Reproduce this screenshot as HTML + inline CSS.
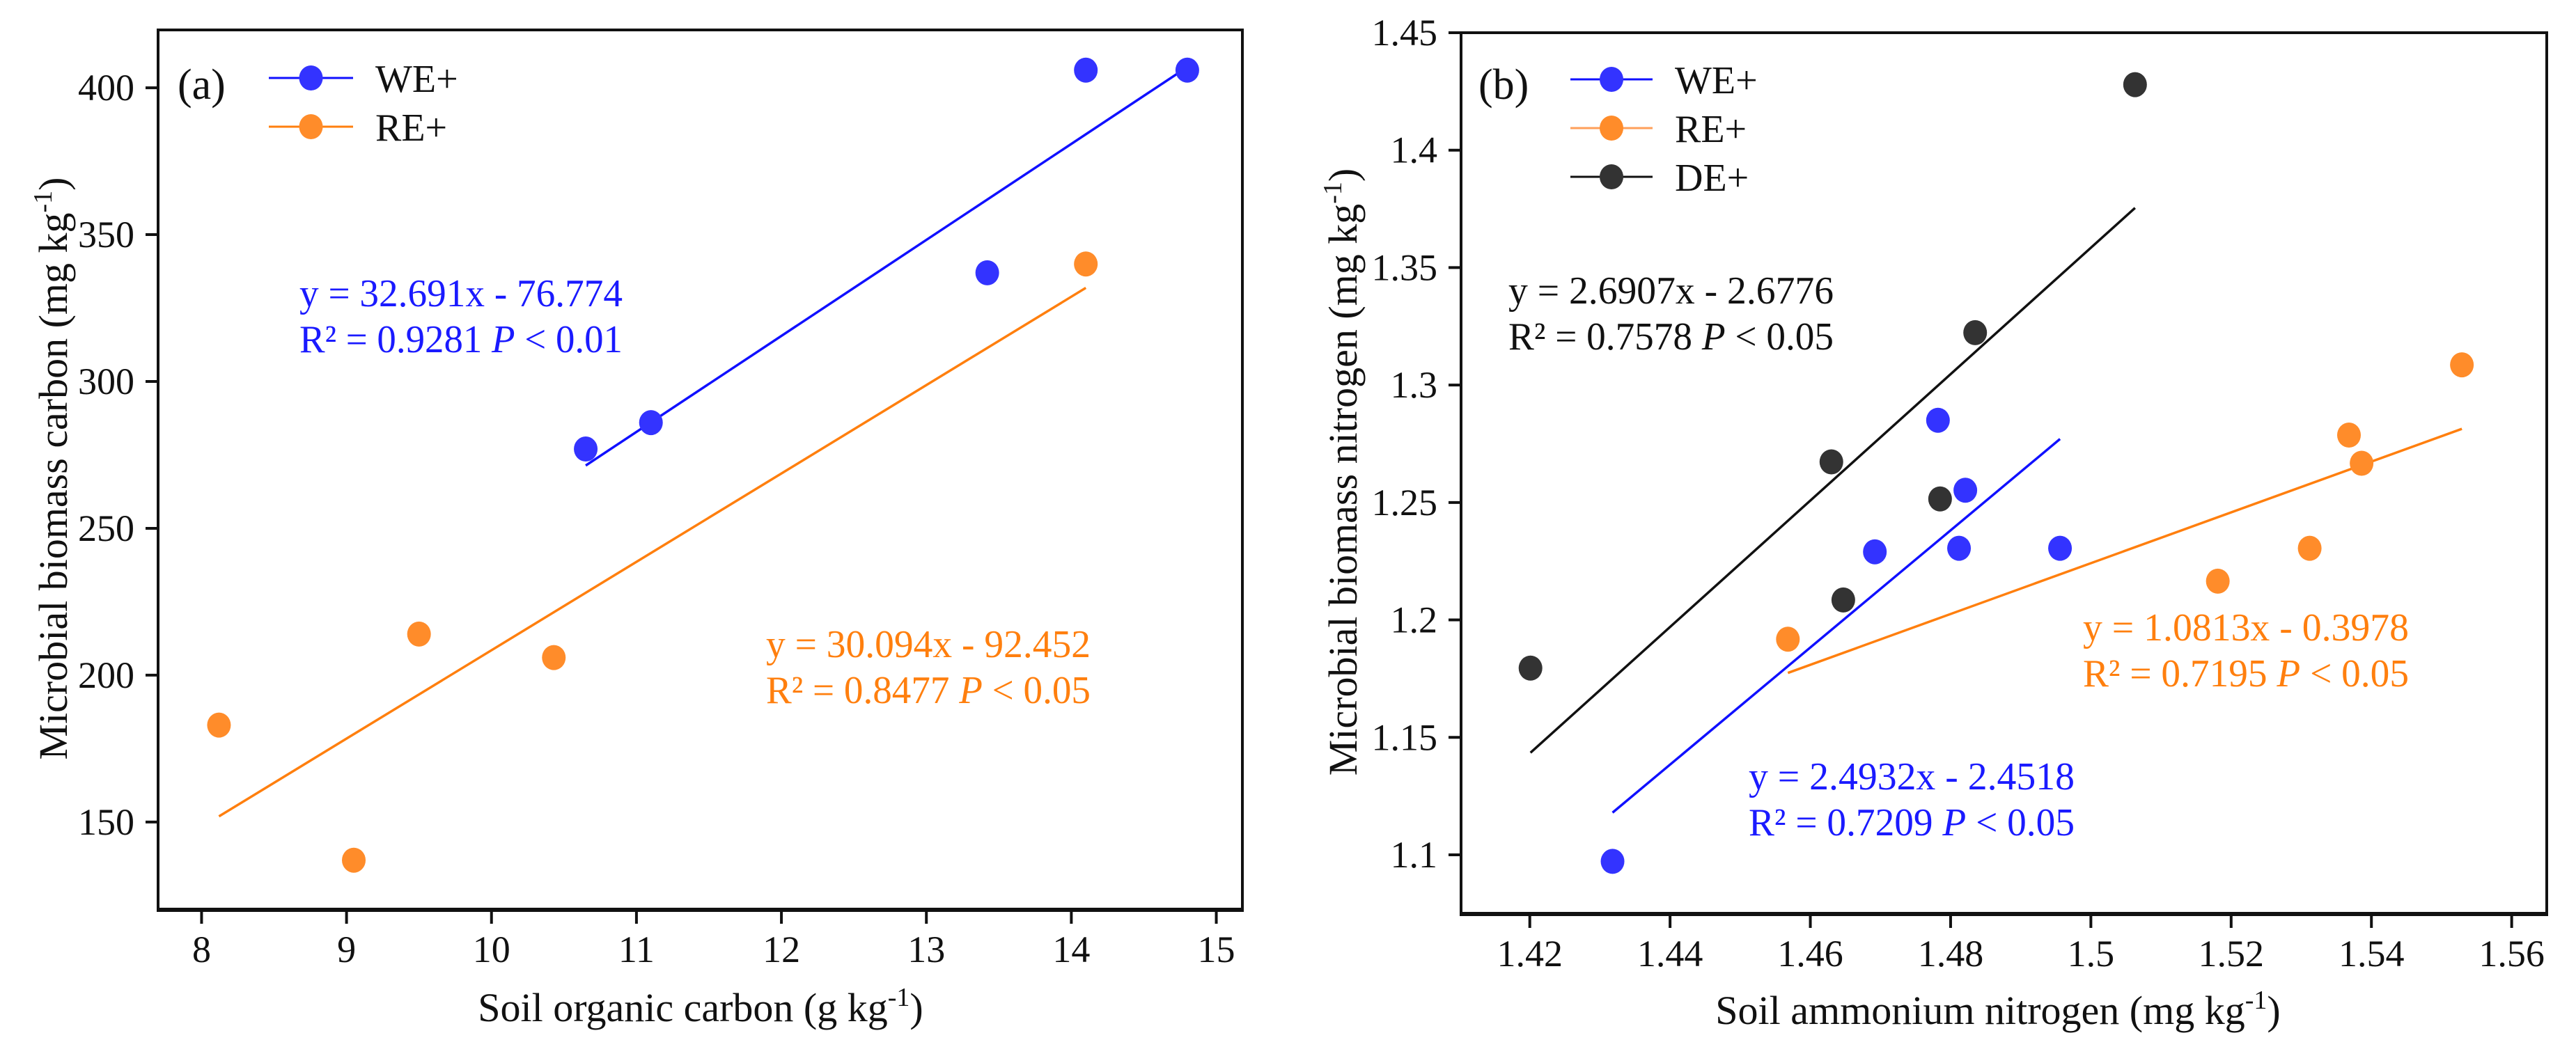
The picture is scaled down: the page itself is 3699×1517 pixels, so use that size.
<!DOCTYPE html>
<html><head><meta charset="utf-8"><style>
html,body{margin:0;padding:0;background:#fff}
svg{display:block}
text{font-family:"Liberation Serif",serif}
</style></head><body>
<svg id="fig" width="3699" height="1517" viewBox="0 0 3699 1517" xmlns="http://www.w3.org/2000/svg"></svg>
<script>
// Panel (a) data
const aXTicks = [8, 9, 10, 11, 12, 13, 14, 15];
const aYTicks = [150, 200, 250, 300, 350, 400];
const aWEx = [10.65, 11.1, 13.42, 14.1, 14.8];
const aWEy = [277, 286, 337, 406, 406];
const aREx = [8.12, 9.05, 9.5, 10.43, 14.1];
const aREy = [183, 137, 214, 206, 340];
const aWEfit = [32.691, -76.774];
const aREfit = [30.094, -92.452];
// Panel (b) data
const bXTicks = [1.42, 1.44, 1.46, 1.48, 1.5, 1.52, 1.54, 1.56];
const bYTicks = [1.1, 1.15, 1.2, 1.25, 1.3, 1.35, 1.4, 1.45];
const bWEx = [1.4318, 1.4692, 1.4782, 1.4821, 1.4812, 1.4956];
const bWEy = [1.0972, 1.229, 1.285, 1.2552, 1.2305, 1.2305];
const bREx = [1.4568, 1.5181, 1.5312, 1.5368, 1.5386, 1.5529];
const bREy = [1.1918, 1.2165, 1.2305, 1.2787, 1.2667, 1.3086];
const bDEx = [1.4201, 1.463, 1.4647, 1.4785, 1.4835, 1.5063];
const bDEy = [1.1795, 1.2673, 1.2085, 1.2515, 1.3223, 1.4279];
const bWEfit = [2.4932, -2.4518];
const bREfit = [1.0813, -0.3978];
const bDEfit = [2.6907, -2.6776];

const NS = "http://www.w3.org/2000/svg";
const svg = document.getElementById('fig');
const BLUE = "#3333ff", ORANGE = "#ff8c2a", DARK = "#333333";
function mk(tag, attrs, parent) {
  const e = document.createElementNS(NS, tag);
  for (const k in attrs) e.setAttribute(k, attrs[k]);
  (parent || svg).appendChild(e);
  return e;
}
function txt(str, attrs, parent) { const t = mk('text', attrs, parent); t.textContent = str; return t; }

function panel(cfg) {
  const g = mk('g', {});
  
  
  const sx = v => cfg.L + (v - cfg.x0) / (cfg.x1 - cfg.x0) * (cfg.R - cfg.L);
  const sy = v => cfg.B - (v - cfg.y0) / (cfg.y1 - cfg.y0) * (cfg.B - cfg.T);
  const frame = mk('rect', {x: cfg.L, y: cfg.T, width: cfg.R - cfg.L, height: cfg.B - cfg.T, fill: 'none', stroke: '#111', 'stroke-width': 4}, g);
  
  
  mk('line', {x1: cfg.L - 2, y1: cfg.B, x2: cfg.R + 2, y2: cfg.B, stroke: '#111', 'stroke-width': 6}, g);
  cfg.xt.forEach(v => {
    const x = sx(v);
    const tk = mk('line', {x1: x, y1: cfg.B, x2: x, y2: cfg.B + 20, stroke: '#111', 'stroke-width': 4}, g);
    
    
    const t = txt(String(v), {x: x, y: cfg.B + 75, 'font-size': 54, 'text-anchor': 'middle', fill: '#111'}, g);
    
    
  });
  cfg.yt.forEach(v => {
    const y = sy(v);
    const tk = mk('line', {x1: cfg.L - 18, y1: y, x2: cfg.L, y2: y, stroke: '#111', 'stroke-width': 4}, g);
    
    
    const t = txt(String(v), {x: cfg.L - 34, y: y + 18, 'font-size': 54, 'text-anchor': 'end', fill: '#111'}, g);
    
    
  });
  cfg.series.forEach(s => {
    const sg = mk('g', {}, g);
    
    
    const xmin = Math.min(...s.x), xmax = Math.max(...s.x);
    const fl = mk('line', {x1: sx(xmin), y1: sy(s.fit[0] * xmin + s.fit[1]), x2: sx(xmax), y2: sy(s.fit[0] * xmax + s.fit[1]), stroke: s.line, 'stroke-width': 3.5}, sg);
    
    
    s.x.forEach((xv, i) => {
      const c = mk('ellipse', {cx: sx(xv), cy: sy(s.y[i]), rx: 17, ry: 18, fill: s.color}, sg);
      
      
    });
  });
  return {g, sx, sy};
}

function legend(g, x0, x1, items) {
  items.forEach(it => {
    const lg = mk('g', {}, g);
    
    
    mk('line', {x1: x0, y1: it.y, x2: x1, y2: it.y, stroke: it.line, 'stroke-width': 3}, lg);
    mk('ellipse', {cx: (x0 + x1) / 2, cy: it.y, rx: 17, ry: 18, fill: it.color}, lg);
    txt(it.label, {x: x1 + 32, y: it.y + 20, 'font-size': 56, fill: '#111'}, lg);
  });
}
function eq(g, name, x, y, color, l1, l2, w, pval) {
  const eg = mk('g', {fill: color, 'font-size': 56}, g);
  
  
  txt(l1, {x: x, y: y, textLength: w, lengthAdjust: 'spacingAndGlyphs'}, eg);
  const t2 = mk('text', {x: x, y: y + 66, textLength: w, lengthAdjust: 'spacingAndGlyphs'}, eg);
  t2.appendChild(document.createTextNode(l2 + ' '));
  const ti = mk('tspan', {'font-style': 'italic'}, t2); ti.textContent = 'P';
  t2.appendChild(document.createTextNode(' < ' + pval));
}

// Panel a
const A = panel({name: 'panel-a', L: 227, R: 1784, T: 43, B: 1307, x0: 7.70, x1: 15.18, y0: 120.1, y1: 419.7,
  xt: aXTicks, yt: aYTicks,
  series: [
    {key: 'we', x: aWEx, y: aWEy, fit: aWEfit, color: BLUE, line: '#1010ff'},
    {key: 're', x: aREx, y: aREy, fit: aREfit, color: ORANGE, line: '#ff7f0e'}]});
txt('(a)', {x: 255, y: 142, 'font-size': 62, fill: '#111'}, A.g);
legend(A.g, 386, 507, [{label: 'WE+', y: 112, color: BLUE, line: '#1010ff'}, {label: 'RE+', y: 182, color: ORANGE, line: '#ff7f0e'}]);
eq(A.g, 'equation-we', 430, 440, '#1a1aff', 'y = 32.691x - 76.774', 'R² = 0.9281', 464, '0.01');
eq(A.g, 'equation-re', 1100, 944, '#ff7f0e', 'y = 30.094x - 92.452', 'R² = 0.8477', 466, '0.05');
const ayt = mk('text', {x: 0, y: 0, 'font-size': 58, 'text-anchor': 'middle', fill: '#111', transform: 'translate(96,673) rotate(-90)'}, A.g);


ayt.appendChild(document.createTextNode('Microbial biomass carbon (mg kg'));
mk('tspan', {dy: -22, 'font-size': 38}, ayt).textContent = '-1';
mk('tspan', {dy: 22}, ayt).textContent = ')';
const axt = mk('text', {x: 1006, y: 1467, 'font-size': 58, 'text-anchor': 'middle', fill: '#111'}, A.g);


axt.appendChild(document.createTextNode('Soil organic carbon (g kg'));
mk('tspan', {dy: -22, 'font-size': 38}, axt).textContent = '-1';
mk('tspan', {dy: 22}, axt).textContent = ')';

// Panel b
const Bp = panel({name: 'panel-b', L: 2098, R: 3657, T: 47, B: 1313, x0: 1.4102, x1: 1.5650, y0: 1.0748, y1: 1.45,
  xt: bXTicks, yt: bYTicks,
  series: [
    {key: 'we', x: bWEx, y: bWEy, fit: bWEfit, color: BLUE, line: '#1010ff'},
    {key: 're', x: bREx, y: bREy, fit: bREfit, color: ORANGE, line: '#ff7f0e'},
    {key: 'de', x: bDEx, y: bDEy, fit: bDEfit, color: DARK, line: '#111'}]});
txt('(b)', {x: 2123, y: 142, 'font-size': 62, fill: '#111'}, Bp.g);
legend(Bp.g, 2255, 2373, [{label: 'WE+', y: 114, color: BLUE, line: '#1010ff'}, {label: 'RE+', y: 184, color: ORANGE, line: '#ff9f5a'}, {label: 'DE+', y: 254, color: DARK, line: '#111'}]);
eq(Bp.g, 'equation-de', 2166, 436, '#111', 'y = 2.6907x - 2.6776', 'R² = 0.7578', 467, '0.05');
eq(Bp.g, 'equation-re', 2991, 920, '#ff7f0e', 'y = 1.0813x - 0.3978', 'R² = 0.7195', 468, '0.05');
eq(Bp.g, 'equation-we', 2511, 1134, '#1a1aff', 'y = 2.4932x - 2.4518', 'R² = 0.7209', 468, '0.05');
const byt = mk('text', {x: 0, y: 0, 'font-size': 58, 'text-anchor': 'middle', fill: '#111', transform: 'translate(1948,678) rotate(-90)'}, Bp.g);


byt.appendChild(document.createTextNode('Microbial biomass nitrogen (mg kg'));
mk('tspan', {dy: -22, 'font-size': 38}, byt).textContent = '-1';
mk('tspan', {dy: 22}, byt).textContent = ')';
const bxt = mk('text', {x: 2869, y: 1471, 'font-size': 58, 'text-anchor': 'middle', fill: '#111'}, Bp.g);


bxt.appendChild(document.createTextNode('Soil ammonium nitrogen (mg kg'));
mk('tspan', {dy: -22, 'font-size': 38}, bxt).textContent = '-1';
mk('tspan', {dy: 22}, bxt).textContent = ')';
</script>
</body></html>
